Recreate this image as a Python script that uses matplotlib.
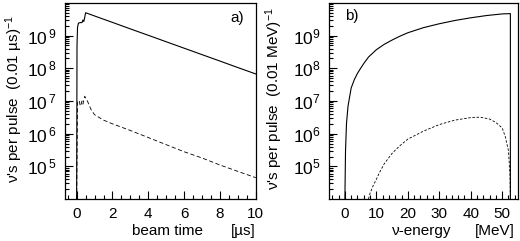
import matplotlib
matplotlib.use("Agg")
import matplotlib.pyplot as plt
from matplotlib.ticker import MultipleLocator, LogLocator, NullFormatter, FixedLocator

plt.rcParams["font.family"] = ["Liberation Sans", "DejaVu Sans"]
plt.rcParams["mathtext.fontset"] = "custom"
plt.rcParams["mathtext.rm"] = "Liberation Sans"
plt.rcParams["mathtext.it"] = "Liberation Sans:italic"

# panel a: time spectrum
t_solid = [0.0, 0.02, 0.05, 0.1, 0.2, 0.3, 0.35, 0.4, 0.45, 0.5,
           1, 2, 3, 4, 5, 6, 7, 8, 9, 10]
n_solid = [1e4, 5e8, 1.8e9, 2.4e9, 2.5e9, 2.5e9, 3.0e9, 2.7e9, 3.6e9, 5.0e9,
           3.98e9, 2.53e9, 1.60e9, 1.02e9, 6.47e8, 4.11e8, 2.61e8, 1.66e8, 1.05e8, 6.7e7]

t_dash = [0.0, 0.05, 0.1, 0.15, 0.2, 0.25, 0.3, 0.35, 0.45, 0.6, 0.8, 1.0,
          1.5, 2, 3, 4, 5, 6, 7, 8, 9, 10]
n_dash = [1e4, 1e7, 1e7, 1e7, 7e6, 8e6, 1.0e7, 8e6, 1.4e7, 1.0e7, 5.5e6, 3.8e6,
          2.6e6, 2.0e6, 1.25e6, 7.6e5, 4.6e5, 2.8e5, 1.8e5, 1.1e5, 7.0e4, 4.5e4]

# panel b: energy spectrum
e_solid = [0.0, 0.2, 0.5, 1, 2, 3, 4, 5, 6, 7.5, 10, 12.5, 15, 17.5, 20, 25, 30,
           35, 40, 45, 50, 52.6, 52.6]
f_solid = [1e4, 3e5, 2e6, 7e6, 2.5e7, 4.5e7, 7e7, 1.0e8, 1.4e8, 2.2e8, 3.7e8, 5.4e8,
           7.3e8, 9.6e8, 1.22e9, 1.75e9, 2.3e9, 2.9e9, 3.5e9, 4.1e9, 4.6e9, 4.7e9, 1e4]

e_dash = [7.5, 8, 9, 10, 11, 12.5, 15, 17.5, 20, 25, 30, 35, 40, 43, 46, 48, 50,
          51, 52, 52.5, 52.6]
f_dash = [1e4, 1.5e4, 2.6e4, 4e4, 6.5e4, 1.2e5, 2.5e5, 4.3e5, 6.8e5, 1.2e6, 1.9e6,
          2.6e6, 3.1e6, 3.2e6, 2.8e6, 2.2e6, 1.5e6, 8e5, 3e5, 5e4, 1e4]

fig = plt.figure(figsize=(5.2, 2.41), dpi=100)
ax1 = fig.add_axes([0.125, 0.174, 0.367, 0.814])
ax2 = fig.add_axes([0.633, 0.174, 0.363, 0.814])

ax1.plot(t_solid, n_solid, color="black", lw=0.8)
ax1.plot(t_dash, n_dash, color="black", lw=0.6, dashes=(5, 3))
ax2.plot(e_solid, f_solid, color="black", lw=0.8)
ax2.plot(e_dash, f_dash, color="black", lw=0.6, dashes=(3, 2))

ax1.set_xlim(-0.65, 10)
ax2.set_xlim(-5, 55)
ax1.xaxis.set_major_locator(MultipleLocator(2))
ax1.xaxis.set_minor_locator(MultipleLocator(0.5))
ax2.xaxis.set_major_locator(FixedLocator([0, 10, 20, 30, 40, 50]))
ax2.xaxis.set_minor_locator(MultipleLocator(2))

for ax in (ax1, ax2):
    ax.set_yscale("log")
    ax.set_ylim(1e4, 1e10)
    ax.yaxis.set_major_locator(FixedLocator([1e5, 1e6, 1e7, 1e8, 1e9]))
    ax.yaxis.set_minor_locator(LogLocator(base=10, subs=range(2, 10), numticks=20))
    ax.yaxis.set_minor_formatter(NullFormatter())
    ax.tick_params(which="both", direction="in", top=False, right=False,
                   labelsize=11, width=0.8)
    ax.tick_params(axis="y", pad=6, labelsize=12.5)
    ax.tick_params(axis="x", pad=6)
    ax.tick_params(which="major", length=6)
    ax.tick_params(which="minor", length=3)
    for s in ax.spines.values():
        s.set_linewidth(0.9)

ax1.set_yticklabels([r"$10^{\,5}$", r"$10^{\,6}$", r"$10^{\,7}$", r"$10^{\,8}$", r"$10^{\,9}$"])
ax2.set_yticklabels([r"$10^{5}$", r"$10^{6}$", r"$10^{7}$", r"$10^{8}$", r"$10^{9}$"])

ax1.set_ylabel(r"ν's per pulse  (0.01 µs)$^{-1}$", fontsize=11)
ax2.set_ylabel(r"ν's per pulse  (0.01 MeV)$^{-1}$", fontsize=11)
ax1.yaxis.set_label_coords(-0.21, 0.51)
ax2.yaxis.set_label_coords(-0.235, 0.51)

ax1.text(0.722, -0.163, "beam time", transform=ax1.transAxes, ha="right", va="center", fontsize=11)
ax1.text(1.0, -0.163, "[µs]", transform=ax1.transAxes, ha="right", va="center", fontsize=11)
ax2.text(0.65, -0.163, "ν-energy", transform=ax2.transAxes, ha="right", va="center", fontsize=11)
ax2.text(0.985, -0.163, "[MeV]", transform=ax2.transAxes, ha="right", va="center", fontsize=11)

ax1.text(0.864, 0.925, "a)", transform=ax1.transAxes, va="center", fontsize=11)
ax2.text(0.085, 0.935, "b)", transform=ax2.transAxes, va="center", fontsize=11)

fig.savefig("out.png", dpi=100)
